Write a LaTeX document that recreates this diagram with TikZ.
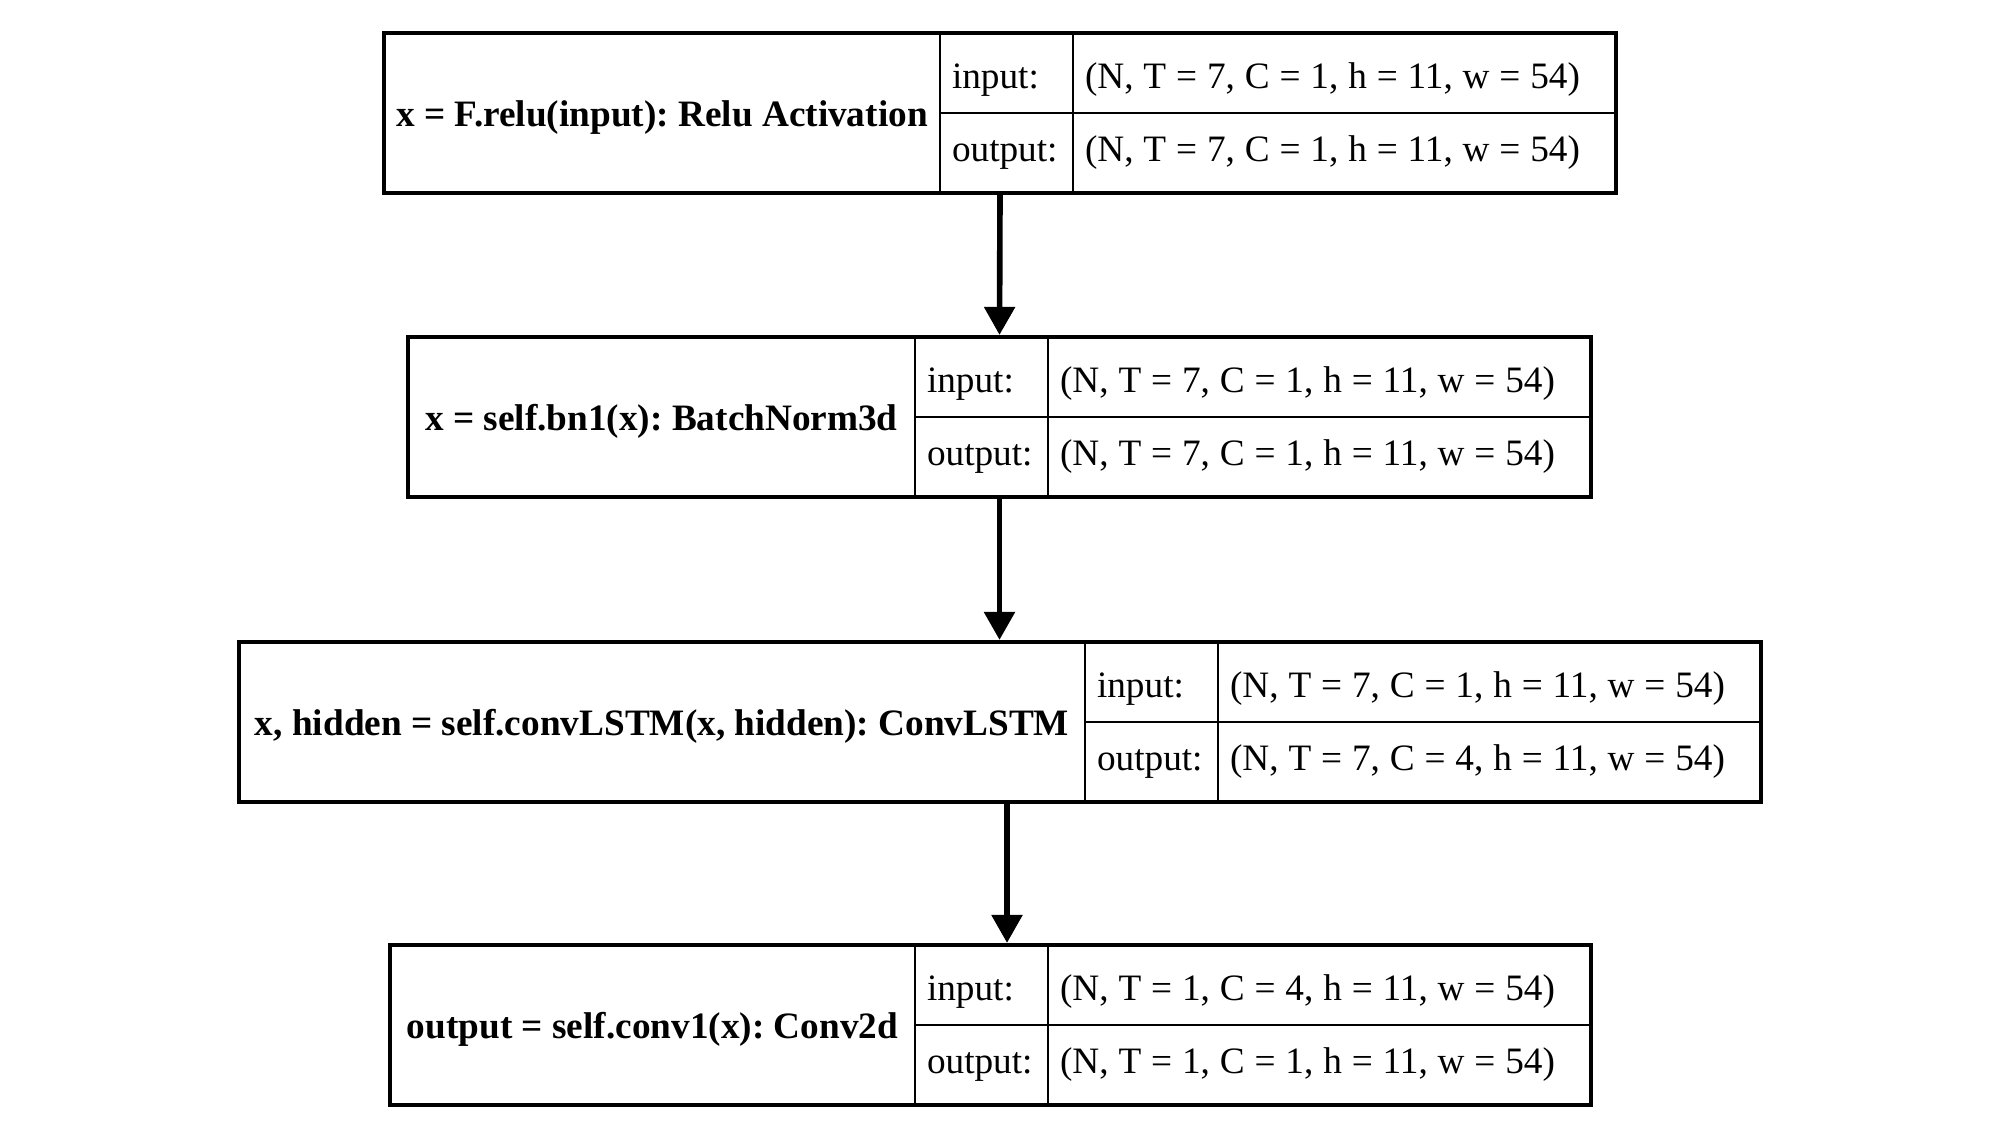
\documentclass[tikz,border=0pt]{standalone}
\usepackage{fontspec}
\setmainfont{Liberation Serif}
\usetikzlibrary{positioning, arrows.meta, fit}
\frenchspacing

\begin{document}
\begin{tikzpicture}[font=\fontsize{10.6}{12.7}\selectfont, >={Triangle[length=2.8mm, width=3mm]},
  title/.style={draw, line width=0.8pt, font=\fontsize{10.6}{12.7}\selectfont\bfseries, minimum height=1.6cm, text height=0.75em, text depth=0pt, inner sep=0pt, outer sep=0pt, anchor=north west},
  lab/.style={draw, line width=0.8pt, text width=1.09cm, inner xsep=0.12cm, minimum height=0.8cm, text depth=0pt, inner ysep=0pt, outer sep=0pt, align=left, anchor=north west},
  val/.style={draw, line width=0.8pt, text width=5.19cm, inner xsep=0.12cm, minimum height=0.8cm, text depth=0pt, inner ysep=0pt, outer sep=0pt, align=left, anchor=north west,
    execute at begin node={\spaceskip=0.265em\relax}},
  uprow/.style={text height=0.31cm},
  lowrow/.style={text height=0.16cm},
  layer/.style={draw, line width=1.2pt, inner sep=0pt},
  flow/.style={->, line width=1.6pt}]
  \useasboundingbox (0,0) rectangle (20,-11.25);
  % relu
  \node[title, minimum width=5.56cm] (t1) at (3.84,-0.33) {x = F.relu(input): Relu Activation};
  \node[lab, uprow] (i1) at (t1.north east) {input:};
  \node[lab, lowrow] (o1) at (i1.south west) {output:};
  \node[val, uprow] (iv1) at (i1.north east) {(N, T = 7, C = 1, h = 11, w = 54)};
  \node[val, lowrow] (ov1) at (iv1.south west) {(N, T = 7, C = 1, h = 11, w = 54)};
  \node[layer, fit=(t1)(ov1)] (l1) {};
  % batchnorm
  \node[title, minimum width=5.07cm] (t2) at (4.08,-3.37) {x = self.bn1(x): BatchNorm3d};
  \node[lab, uprow] (i2) at (t2.north east) {input:};
  \node[lab, lowrow] (o2) at (i2.south west) {output:};
  \node[val, uprow] (iv2) at (i2.north east) {(N, T = 7, C = 1, h = 11, w = 54)};
  \node[val, lowrow] (ov2) at (iv2.south west) {(N, T = 7, C = 1, h = 11, w = 54)};
  \node[layer, fit=(t2)(ov2)] (l2) {};
  % convlstm
  \node[title, minimum width=8.46cm] (t3) at (2.39,-6.42) {x, hidden = self.convLSTM(x, hidden): ConvLSTM};
  \node[lab, uprow] (i3) at (t3.north east) {input:};
  \node[lab, lowrow] (o3) at (i3.south west) {output:};
  \node[val, uprow] (iv3) at (i3.north east) {(N, T = 7, C = 1, h = 11, w = 54)};
  \node[val, lowrow] (ov3) at (iv3.south west) {(N, T = 7, C = 4, h = 11, w = 54)};
  \node[layer, fit=(t3)(ov3)] (l3) {};
  % conv2d
  \node[title, minimum width=5.25cm] (t4) at (3.90,-9.45) {output = self.conv1(x): Conv2d};
  \node[lab, uprow] (i4) at (t4.north east) {input:};
  \node[lab, lowrow] (o4) at (i4.south west) {output:};
  \node[val, uprow] (iv4) at (i4.north east) {(N, T = 1, C = 4, h = 11, w = 54)};
  \node[val, lowrow] (ov4) at (iv4.south west) {(N, T = 1, C = 1, h = 11, w = 54)};
  \node[layer, fit=(t4)(ov4)] (l4) {};
  \draw[flow] (l1.south) -- (l2.north);
  \draw[flow] (l2.south) -- (l2.south |- l3.north);
  \draw[flow] ([xshift=0.07cm]l3.south) -- ([xshift=0.07cm]l3.south |- l4.north);
\end{tikzpicture}
\end{document}
